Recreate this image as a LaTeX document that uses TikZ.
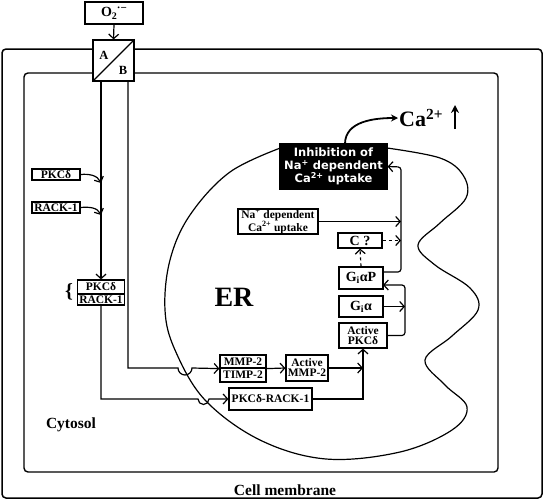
\documentclass[tikz,border=0pt]{standalone}
\usepackage{fontspec}
\setmainfont{Liberation Serif}
\newfontfamily\heavysans{DejaVu Sans}
\usetikzlibrary{arrows.meta}
\tikzset{
  arr/.style={-{Straight Barb[length=4.5pt,width=10pt]}},
  bx/.style={draw, fill=white, line width=1.2pt, inner sep=0pt, align=center, font=\fontsize{11.5}{10}\selectfont\bfseries},
  conn/.style={line width=1.2pt}
}
\begin{document}
\begin{tikzpicture}[x=1pt,y=-1pt]
\useasboundingbox (0,0) rectangle (544,501);
% membranes
\draw[line width=1.5pt, rounded corners=4] (2,49) rectangle (542,498);
\draw[line width=1.4pt, rounded corners=4] (24,73) rectangle (498,472);
% ER
\draw[line width=1.2pt] plot[smooth, tension=0.6] coordinates {(387,148) (440,158) (463,175) (466,198) (440,223) (418,245) (435,265) (470,288) (478,310) (452,336) (425,360) (445,385) (467,407) (452,430) (400,452) (326,459) (260,440) (205,400) (175,350) (165,310) (170,260) (190,215) (230,172) (283,147)};
% labels
\node[font=\fontsize{28}{28}\selectfont\bfseries] (er) at (234,297) {ER};
\node[font=\fontsize{15.5}{15.5}\selectfont\bfseries] (cyt) at (71,425) {Cytosol};
\node[font=\fontsize{15.5}{15.5}\selectfont\bfseries] (cm) at (285,490) {Cell membrane};
% top
\node[bx, minimum width=58, minimum height=22, font=\fontsize{14}{14}\selectfont\bfseries] (o2) at (114,13) {O\raisebox{-0.45ex}{\fontsize{10}{10}\selectfont 2}\raisebox{0.75ex}{\fontsize{11}{11}\selectfont ·−}};
\node[bx, minimum width=41, minimum height=41] (ab) at (113.5,60.5) {};
\draw[line width=1.2pt] (ab.south west) -- (ab.north east);
\node[font=\fontsize{12.5}{12.5}\selectfont\bfseries] (la) at (104,55) {A};
\node[font=\fontsize{12.5}{12.5}\selectfont\bfseries] (lb) at (123,70) {B};
\draw[conn,arr] (o2.south) -- (ab.north);
% left column
\node[bx, minimum width=48, minimum height=11] (pk1) at (56,174.5) {PKCδ};
\node[bx, minimum width=48, minimum height=11] (rk1) at (56,207.5) {RACK-1};
\node[bx, minimum width=47, minimum height=14] (prA) at (101,287) {PKCδ};
\node[bx, minimum width=47, minimum height=11] (prB) at (101,299.5) {RACK-1};
\node[font=\fontsize{20}{20}\selectfont\bfseries] (br) at (69,292) {\{};
\coordinate (abL) at (101,81);
\coordinate (abR) at (128,81);
\coordinate (j1) at (101,183);
\coordinate (j2) at (101,215);
\draw[conn,arr] (abL) -- (prA.north);
\draw[conn,arr] (pk1.east) to[out=5,in=115] (j1);
\draw[conn,arr] (rk1.east) to[out=5,in=115] (j2);
% boxes inside
\node[bx, minimum width=46, minimum height=13] (mtA) at (243,361.5) {MMP-2};
\node[bx, minimum width=46, minimum height=14] (mtB) at (243,375) {TIMP-2};
\node[bx, minimum width=42, minimum height=26] (am) at (307,368) {Active\\MMP-2};
\node[bx, minimum width=83, minimum height=22] (prk) at (270.5,399) {PKCδ-RACK-1};
\node[bx, minimum width=48, minimum height=25] (ap) at (363,335.5) {Active\\PKCδ};
\node[bx, minimum width=44, minimum height=21, font=\fontsize{14}{14}\selectfont\bfseries] (gia) at (361,306.5) {G\textsubscript{i}α};
\node[bx, minimum width=44, minimum height=22, font=\fontsize{14}{14}\selectfont\bfseries] (giap) at (361,278) {G\textsubscript{i}αP};
\node[bx, minimum width=44, minimum height=15, font=\fontsize{14}{14}\selectfont\bfseries] (cq) at (360,240.5) {C ?};
\node[bx, minimum width=80, minimum height=25, font=\fontsize{11.5}{11}\selectfont\bfseries] (na) at (278,221.5) {Na\textsuperscript{+} dependent\\Ca\textsuperscript{2+} uptake};
\node[bx, fill=black, text=white, minimum width=107, minimum height=45, font=\heavysans\fontsize{11.5}{13}\selectfont\bfseries] (inh) at (333.5,166.5) {Inhibition of\\Na\textsuperscript{+} dependent\\Ca\textsuperscript{2+} uptake};
% connectors with hops
\draw[conn,arr] (abR) -- (128,368) -- (178,368) arc[start angle=180,end angle=0,radius=7] -- (mtA.south west);
\draw[conn,arr] (prB.south) -- (101,399) -- (198,399) arc[start angle=180,end angle=0,radius=5.5] -- (prk.west);
\draw[conn,arr] (mtA.south east) -- (am.west);
\coordinate (jm) at (363,368);
\draw[conn,arr] (am.east) -- (jm);
\draw[conn,arr] (prk.east) -- (363,399) -- (ap.south);
\coordinate (jg) at (405,306.5);
\draw[conn,arr] (gia.east) -- (jg);
\draw[conn,arr,rounded corners=3] (ap.east) -- (405,335.5) -- (405,285) -- (383,285);
\draw[conn,arr,rounded corners=3] (383,272) -- (401,272) -- (401,167) -- (inh.east);
\coordinate (jn) at (401,221.5);
\draw[conn,arr] (na.east) -- (jn);
\coordinate (jc) at (401,240.5);
\draw[conn,arr,dashed] (cq.east) -- (jc);
\draw[conn,arr,dashed] (giap.north) -- (cq.south);
% Ca2+
\node[font=\fontsize{22}{22}\selectfont\bfseries, anchor=west, inner sep=1pt] (ca) at (398,118) {Ca\textsuperscript{2+}};
\draw[line width=1.8pt,-{Stealth[length=7pt,width=7pt]}] (345,144) to[out=90,in=180] (ca.west);
\coordinate (up1) at (455,129);
\coordinate (up2) at (455,105);
\draw[line width=2pt,-{Stealth[length=8pt,width=8pt]}] (up1) -- (up2);
\end{tikzpicture}
\end{document}
